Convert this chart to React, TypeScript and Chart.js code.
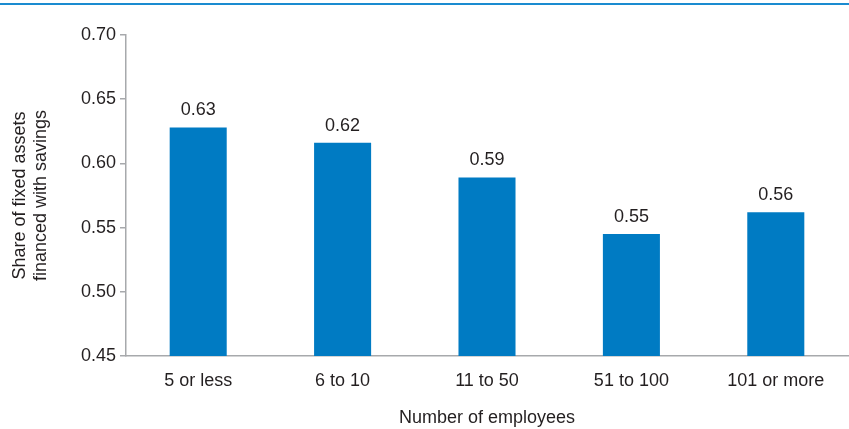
import React, { useEffect, useRef } from "react";
import { Chart, registerables } from "chart.js";

Chart.register(...registerables);

const categories = ["5 or less", "6 to 10", "11 to 50", "51 to 100", "101 or more"];
const shares = [0.628, 0.616, 0.589, 0.545, 0.562];
const shareLabels = ["0.63", "0.62", "0.59", "0.55", "0.56"];
const yTitle = ["Share of fixed assets", "financed with savings"];
const xTitle = "Number of employees";

const FONT = "'Liberation Sans Narrow', 'Arial Narrow', 'Liberation Sans', Arial, sans-serif";
const TEXT = "#231f20";
const BAR = "#007bc3";

export default function App() {
  const ref = useRef<HTMLCanvasElement | null>(null);
  useEffect(() => {
    if (!ref.current) return;
    const labelPlugin = {
      id: "labels",
      beforeDraw(chart: any) {
        const ctx = chart.ctx;
        ctx.save();
        ctx.strokeStyle = "#1a8bd0";
        ctx.lineWidth = 2;
        ctx.beginPath();
        ctx.moveTo(0, 4);
        ctx.lineTo(chart.width, 4);
        ctx.stroke();
        ctx.restore();
      },
      afterDatasetsDraw(chart: any) {
        const ctx = chart.ctx;
        const meta = chart.getDatasetMeta(0);
        ctx.save();
        ctx.font = `18px ${FONT}`;
        ctx.fillStyle = TEXT;
        ctx.textAlign = "center";
        ctx.textBaseline = "bottom";
        meta.data.forEach((el: any, i: number) => {
          ctx.fillText(shareLabels[i], el.x, el.y - 8);
        });
        ctx.restore();
      },
    };
    const chart = new Chart(ref.current, {
      type: "bar",
      data: {
        labels: categories,
        datasets: [
          {
            data: shares,
            backgroundColor: BAR,
            categoryPercentage: 1,
            barPercentage: 0.395,
          },
        ],
      },
      options: {
        animation: false,
        responsive: false,
        maintainAspectRatio: false,
        layout: { padding: { top: 35, right: 1, left: 0, bottom: 0 } },
        plugins: { legend: { display: false }, tooltip: { enabled: false } },
        scales: {
          x: {
            grid: { display: false, drawTicks: false },
            border: { color: "#a7a9ac", width: 1.5 },
            ticks: { color: TEXT, font: { family: FONT, size: 18 }, padding: 14 },
            title: {
              display: true,
              text: xTitle,
              color: TEXT,
              font: { family: FONT, size: 18 },
              padding: { top: 10, bottom: 0 },
            },
            afterFit(scale: any) {
              scale.height = 73;
            },
          },
          y: {
            min: 0.45,
            max: 0.7,
            ticks: {
              stepSize: 0.05,
              color: TEXT,
              font: { family: FONT, size: 18 },
              padding: 4,
              callback: (v: any) => Number(v).toFixed(2),
            },
            grid: { drawOnChartArea: false, tickLength: 6, color: "#a7a9ac", lineWidth: 1.5 },
            border: { color: "#a7a9ac", width: 1.5 },
            title: {
              display: true,
              text: yTitle,
              color: TEXT,
              font: { family: FONT, size: 18, lineHeight: 1.2 },
              padding: { top: 9, bottom: 0 },
            },
            afterFit(scale: any) {
              scale.width = 126;
            },
          },
        },
      },
      plugins: [labelPlugin],
    });
    return () => chart.destroy();
  }, []);
  return (
    <div style={{ position: "fixed", left: 0, top: 0, width: 849, height: 429, background: "#fff" }}>
      <canvas ref={ref} width={849} height={429} style={{ width: 849, height: 429 }} />
    </div>
  );
}
